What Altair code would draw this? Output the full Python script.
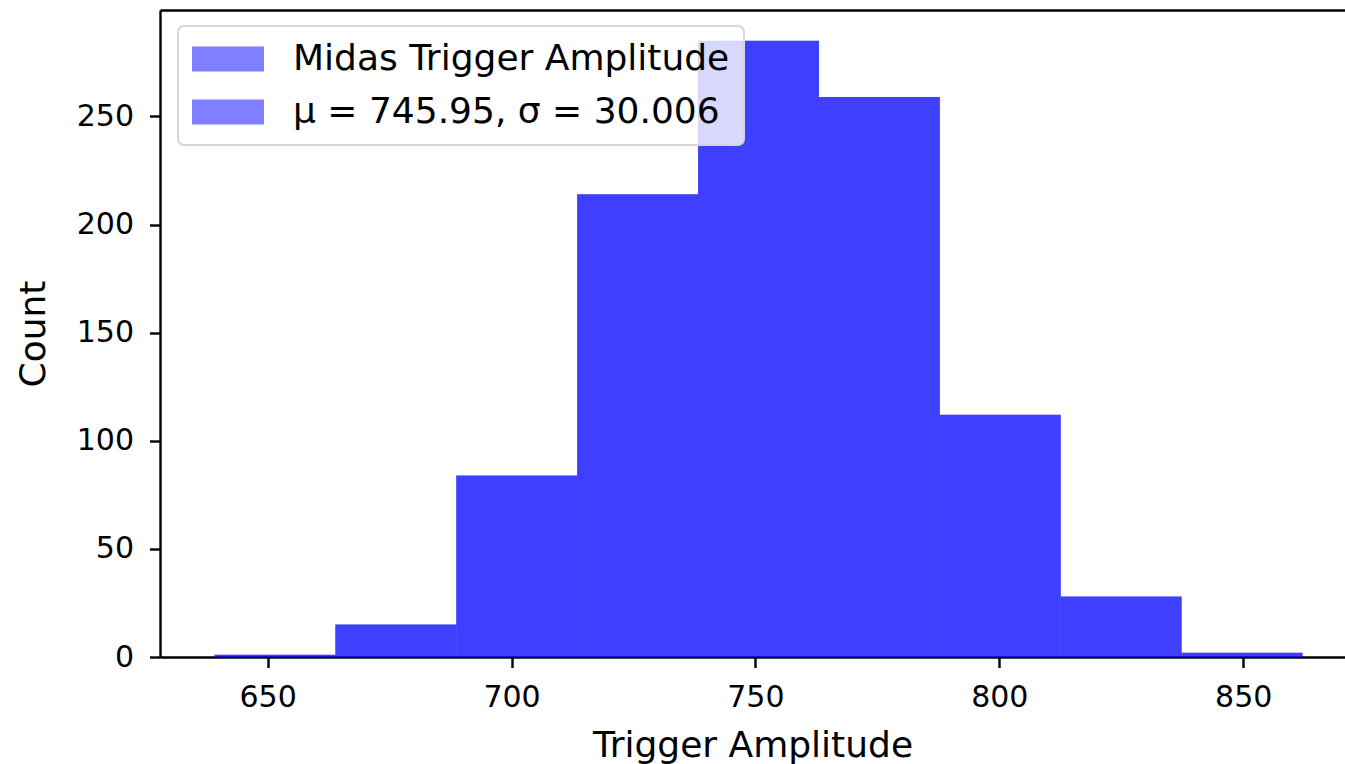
import altair as alt
import pandas as pd

# Histogram bins (edges) and counts
bin_start = [639.09, 663.88, 688.67, 713.45, 738.24, 763.03, 787.82, 812.61, 837.39]
bin_end = [663.88, 688.67, 713.45, 738.24, 763.03, 787.82, 812.61, 837.39, 862.18]
counts = [1, 15, 84, 214, 285, 259, 112, 28, 2]
series = ["Midas Trigger Amplitude", "μ = 745.95, σ = 30.006"]
x_ticks = [650, 700, 750, 800, 850]
y_ticks = [0, 50, 100, 150, 200, 250]

rows = []
for s in series:
    for a, b, c in zip(bin_start, bin_end, counts):
        rows.append({"series": s, "bin_start": a, "bin_end": b, "count": c, "zero": 0})
df = pd.DataFrame(rows)

FONT = "DejaVu Sans"
x_scale = alt.Scale(domain=[627.94, 870.87], nice=False, zero=False)
y_scale = alt.Scale(domain=[0, 299.25], nice=False)

color = alt.Color(
    "series:N",
    scale=alt.Scale(domain=series, range=["#0000ff", "#0000ff"]),
    legend=alt.Legend(
        title=None,
        orient="none",
        legendX=18,
        legendY=16,
        direction="vertical",
        symbolType="M-1,-0.347L1,-0.347L1,0.347L-1,0.347Z",
        symbolSize=5184,
        symbolOpacity=0.5,
        symbolStrokeWidth=0,
        labelFontSize=36,
        labelFont=FONT,
        labelColor="black",
        labelOffset=29,
        labelLimit=1000,
        clipHeight=38,
        rowPadding=15,
        padding=14,
        fillColor="rgba(255,255,255,0.8)",
        strokeColor="#d6d6d6",
        cornerRadius=6,
    ),
)

bars = alt.Chart(df).mark_rect(opacity=0.5).encode(
    x=alt.X(
        "bin_start:Q",
        scale=x_scale,
        axis=alt.Axis(
            values=x_ticks,
            format="d",
            title="Trigger Amplitude",
            labelPadding=15,
            titlePadding=16,
        ),
    ),
    x2="bin_end:Q",
    y=alt.Y(
        "count:Q",
        scale=y_scale,
        stack=None,
        axis=alt.Axis(
            values=y_ticks,
            format="d",
            title="Count",
            labelPadding=16,
            titlePadding=24,
        ),
    ),
    y2="zero:Q",
    color=color,
)

top_spine = alt.Chart(df).mark_point(opacity=0).encode(
    x=alt.X(
        "bin_start:Q",
        scale=x_scale,
        axis=alt.Axis(orient="top", labels=False, ticks=False, title=None, domain=True),
    ),
)

chart = (
    alt.layer(bars, top_spine)
    .resolve_axis(x="independent")
    .properties(
        width=1185,
        height=647,
        autosize=alt.AutoSizeParams(type="none"),
        padding={"left": 160, "top": 10, "right": 0, "bottom": 107},
        background="white",
    )
    .configure_view(stroke=None)
    .configure_legend(strokeWidth=2)
    .configure_axis(
        grid=False,
        domainColor="black",
        domainWidth=2.4,
        tickColor="black",
        tickWidth=2.4,
        tickSize=10.5,
        labelFont=FONT,
        labelFontSize=30,
        labelColor="black",
        titleFont=FONT,
        titleFontSize=36,
        titleFontWeight="normal",
        titleColor="black",
    )
)

chart.save("out.html", embed_options={"renderer": "svg", "actions": False})
